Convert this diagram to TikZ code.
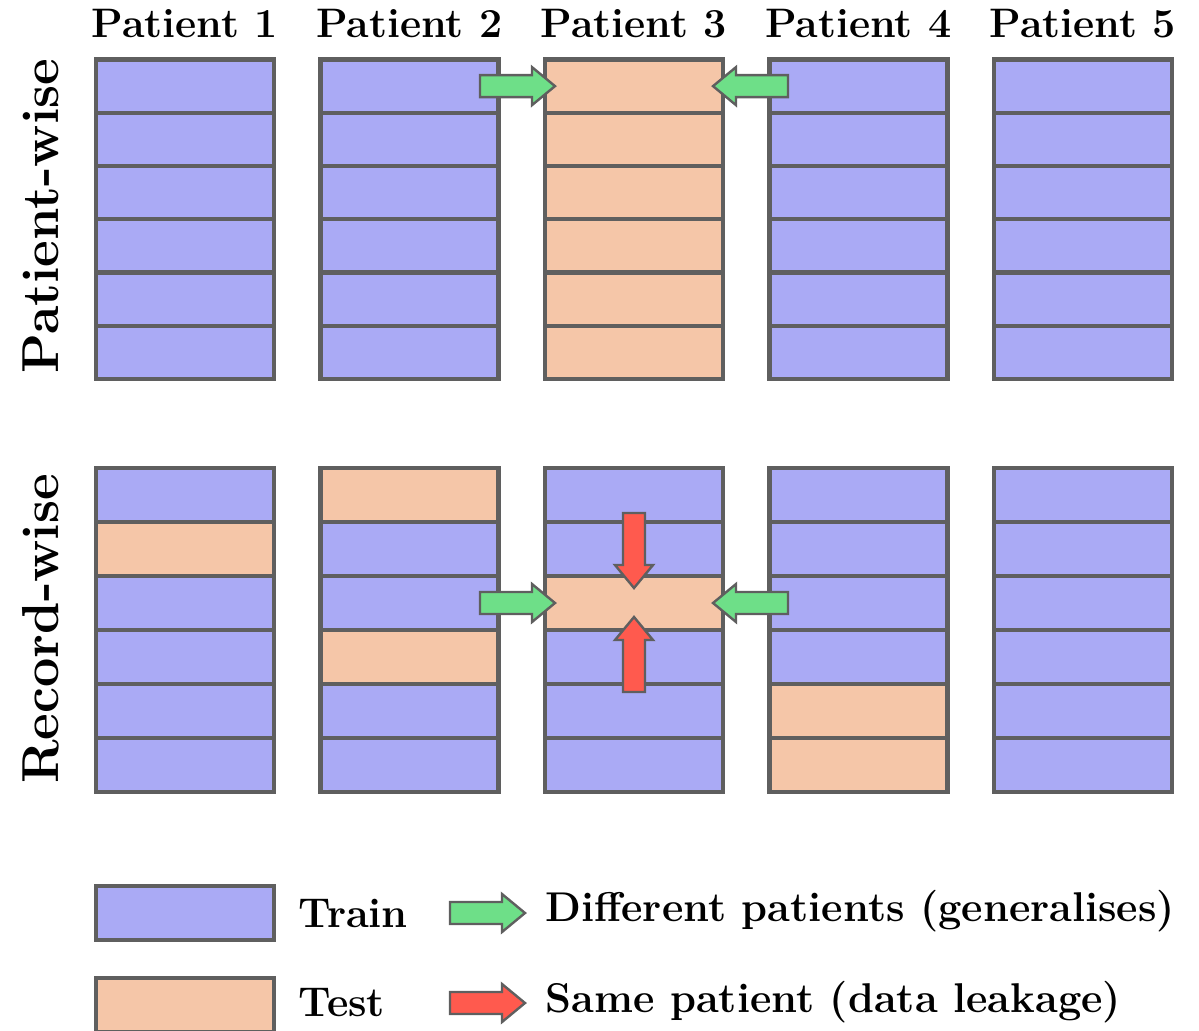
\documentclass[tikz,border=0pt]{standalone}
\usetikzlibrary{calc}
\definecolor{trainfill}{HTML}{AAAAF5}
\definecolor{testfill}{HTML}{F5C6A8}
\definecolor{edgegray}{HTML}{5F5F5F}
\definecolor{goodgreen}{HTML}{6EDF88}
\definecolor{leakred}{HTML}{FF5A4E}
\tikzset{
  cell/.style={draw=edgegray, line width=2.1pt, minimum width=89pt, inner sep=0pt, outer sep=0pt},
  tr/.style={fill=trainfill},
  te/.style={fill=testfill},
  toprow/.style={minimum height=26.62pt},
  botrow/.style={minimum height=27pt},
  header/.style={font=\fontsize{20.6}{23}\selectfont\bfseries, anchor=base},
  sidelabel/.style={font=\fontsize{26}{29}\selectfont\bfseries, rotate=90, anchor=base, inner sep=0pt},
  legtext/.style={font=\fontsize{20.8}{23}\selectfont\bfseries, anchor=west, inner sep=0pt},
  garrow/.style={fill=goodgreen, draw=edgegray, line width=1.2pt, line join=miter},
  rarrow/.style={fill=leakred, draw=edgegray, line width=1.2pt, line join=miter},
  blockarrow/.pic={
    \draw[pic actions] (0,0) -- (-23,19) -- (-23,11) -- (-75,11)
      -- (-75,-11) -- (-23,-11) -- (-23,-19) -- cycle;
  }
}
\begin{document}
\begin{tikzpicture}[x=0.5pt, y=-0.5pt]
\useasboundingbox (0,0) rectangle (1199,1030);

% column headers
\foreach \c in {1,...,5}
  \node[header] (h\c) at ({185+224.5*(\c-1)}, 37) {Patient \c};

% row labels
\node[sidelabel] (lp) at (58, 216) {Patient-wise};
\node[sidelabel] (lr) at (58, 629) {Record-wise};

% patient-wise split: patient 3 held out entirely
\foreach \c/\styles in {1/{tr,tr,tr,tr,tr,tr}, 2/{tr,tr,tr,tr,tr,tr},
                        3/{te,te,te,te,te,te}, 4/{tr,tr,tr,tr,tr,tr},
                        5/{tr,tr,tr,tr,tr,tr}}
  \foreach \s [count=\r] in \styles
    \node[cell, toprow, \s] (p-\c-\r) at ({185+224.5*(\c-1)}, {59.5+53.25*(\r-0.5)}) {};

% record-wise split: records scattered across patients
\foreach \c/\styles in {1/{tr,te,tr,tr,tr,tr}, 2/{te,tr,tr,te,tr,tr},
                        3/{tr,tr,te,tr,tr,tr}, 4/{tr,tr,tr,tr,te,te},
                        5/{tr,tr,tr,tr,tr,tr}}
  \foreach \s [count=\r] in \styles
    \node[cell, botrow, \s] (q-\c-\r) at ({185+224.5*(\c-1)}, {468+54*(\r-0.5)}) {};

% arrows into the held-out patient
\pic[garrow] at ($(p-3-1.west)+(10,0)$) {blockarrow};
\pic[garrow, rotate=180] at ($(p-3-1.east)+(-10,0)$) {blockarrow};

% arrows into the test record
\pic[garrow] at ($(q-3-3.west)+(10,0)$) {blockarrow};
\pic[garrow, rotate=180] at ($(q-3-3.east)+(-10,0)$) {blockarrow};
\pic[rarrow, rotate=-90] at ($(q-3-3.north)+(0,12)$) {blockarrow};
\pic[rarrow, rotate=90] at ($(q-3-3.south)+(0,-13)$) {blockarrow};

% legend
\node[cell, botrow, tr] (ktrain) at (185, 913) {};
\node[cell, botrow, te] (ktest) at (185, 1005) {};
\node[legtext] (ttrain) at (298, 913) {Train};
\node[legtext] (ttest) at (298, 1003) {Test};
\coordinate (gtip) at (525, 913);
\coordinate (rtip) at (525, 1003);
\pic[garrow] at (gtip) {blockarrow};
\pic[rarrow] at (rtip) {blockarrow};
\node[legtext] (tgen) at (545, 911) {Different patients (generalises)};
\node[legtext] (tleak) at (545, 1002) {Same patient (data leakage)};
\end{tikzpicture}
\end{document}
